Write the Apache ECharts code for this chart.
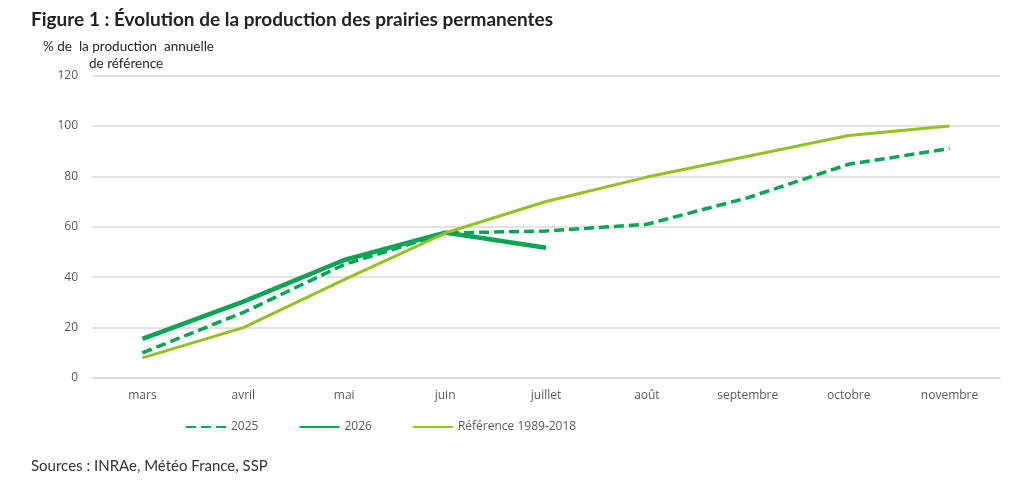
<!DOCTYPE html>
<html><head><meta charset="utf-8">
<script src="https://cdn.jsdelivr.net/npm/echarts@6/dist/echarts.min.js"></script>
<style>html,body{margin:0;padding:0;background:#fff}#c{width:1024px;height:497px}</style>
</head><body><div id="c"></div>
<script>
const months = ['mars','avril','mai','juin','juillet','août','septembre','octobre','novembre'];
const s2025 = [10, 26, 45, 57.5, 58.3, 61, 71.5, 84.8, 91];
const s2026 = [15.5, 30.3, 46.8, 57.7, 51.7, null, null, null, null];
const sRef = [8, 20, 39, 57.5, 70, 79.7, 88, 96.2, 100];
const yTicks = [0, 20, 40, 60, 80, 100, 120];

const font = '"Open Sans", "Noto Sans", sans-serif';
const narrow = 'Lato, "Open Sans", sans-serif';
const chart = echarts.init(document.getElementById('c'));
chart.setOption({
  animation: false,
  textStyle: {fontFamily: font},
  title: [
    {text: 'Figure 1 : Évolution de la production des prairies permanentes', left: 26, top: 5,
     textStyle: {fontSize: 19, fontWeight: 'bold', color: '#222', fontFamily: narrow}},
    {text: '% de  la production  annuelle', left: 38, top: 35,
     textStyle: {fontSize: 13.5, fontWeight: 'normal', color: '#262626', fontFamily: narrow}},
    {text: 'de référence', left: 84, top: 52,
     textStyle: {fontSize: 13.5, fontWeight: 'normal', color: '#262626', fontFamily: narrow}},
    {text: 'Sources : INRAe, Météo France, SSP', left: 26, top: 454,
     textStyle: {fontSize: 15, fontWeight: 'normal', color: '#333', fontFamily: narrow}}
  ],
  legend: {
    top: 416, left: 180, itemWidth: 40, itemHeight: 4, itemGap: 40,
    itemStyle: {opacity: 0},
    textStyle: {fontSize: 12, color: '#595959', fontFamily: font},
    data: ['2025', '2026', 'Référence 1989-2018']
  },
  grid: {left: 92, right: 24, top: 75.5, bottom: 119, containLabel: false},
  xAxis: {
    type: 'category', data: months, boundaryGap: true,
    axisLine: {show: true, lineStyle: {color: '#d9d9d9', width: 1.5}},
    axisTick: {show: false},
    axisLabel: {color: '#595959', fontSize: 12, margin: 12, fontFamily: font}
  },
  yAxis: {
    type: 'value', min: yTicks[0], max: yTicks[yTicks.length - 1], interval: 20,
    axisLine: {show: false}, axisTick: {show: false},
    axisLabel: {color: '#595959', fontSize: 12, margin: 14, fontFamily: font},
    splitLine: {lineStyle: {color: '#d9d9d9', width: 1.5}}
  },
  series: [
    {name: '2025', type: 'line', data: s2025, symbol: 'none', smooth: false,
     lineStyle: {color: '#00A651', width: 3.5, type: [10, 5]}, itemStyle: {color: '#00A651'}},
    {name: '2026', type: 'line', data: s2026, symbol: 'none',
     lineStyle: {color: '#00A651', width: 4.5}, itemStyle: {color: '#00A651'}},
    {name: 'Référence 1989-2018', type: 'line', data: sRef, symbol: 'none',
     lineStyle: {color: '#95C11F', width: 3}, itemStyle: {color: '#95C11F'}}
  ]
});
</script></body></html>
